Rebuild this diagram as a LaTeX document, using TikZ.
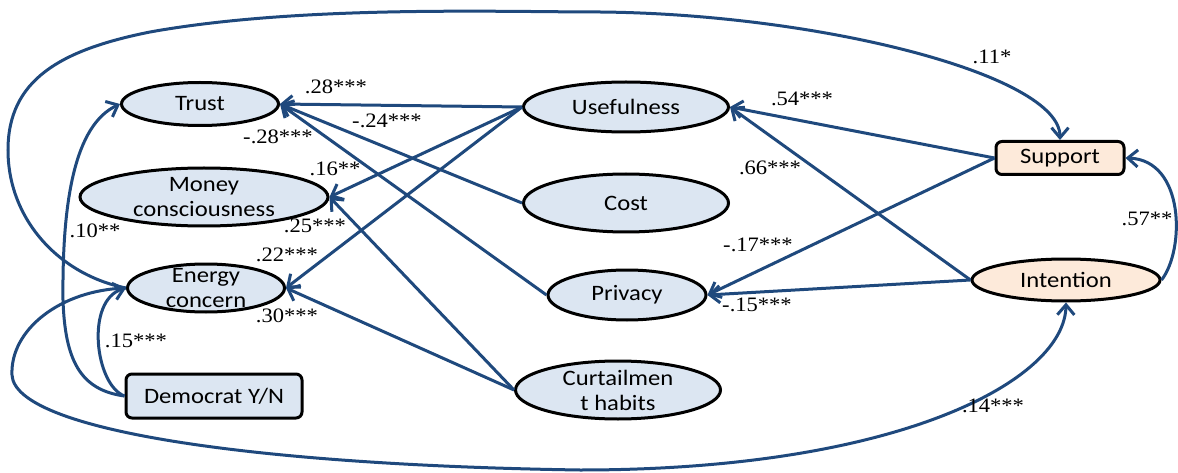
\documentclass[tikz,border=0pt]{standalone}
\usepackage{fontspec}
\setmainfont{Carlito}[FakeStretch=1.12]
\newfontfamily\lblfont{Liberation Serif}[FakeStretch=1.1]
\usetikzlibrary{shapes.geometric,arrows.meta}
\definecolor{linkblue}{RGB}{31,73,125}
\definecolor{nfill}{RGB}{220,230,242}
\definecolor{ofill}{RGB}{253,234,218}
\begin{document}
\begin{tikzpicture}[x=1pt,y=-1pt,
  ell/.style={ellipse,draw=black,line width=3pt,fill=nfill,inner sep=0pt,font=\fontsize{22}{25}\selectfont},
  txt/.style={inner sep=0pt,align=center,font=\fontsize{22}{25}\selectfont},
  box/.style={rectangle,rounded corners=6pt,draw=black,line width=3pt,fill=nfill,inner sep=0pt,font=\fontsize{22}{25}\selectfont},
  lbl/.style={inner sep=0pt,font=\lblfont\fontsize{20.5}{23}\selectfont},
  link/.style={draw=linkblue,line width=3pt,-{Straight Barb[length=10pt,width=17pt]}},
]
\path[use as bounding box] (0,0) rectangle (1178,473);

% nodes
\node[ell,minimum width=157pt,minimum height=43pt] (trust) at (200,104) {Trust};
\node[ell,minimum width=248pt,minimum height=58pt,label={[txt]center:{Money\\consciousness}}] (money) at (204,197) {};
\node[ell,minimum width=157pt,minimum height=48pt,label={[txt]center:{Energy\\concern}}] (energy) at (206,288) {};
\node[box,minimum width=176pt,minimum height=44pt] (dem) at (214,396) {Democrat Y/N};
\node[ell,minimum width=205pt,minimum height=50pt] (use) at (626,107) {Usefulness};
\node[ell,minimum width=205pt,minimum height=58pt] (cost) at (626,203) {Cost};
\node[ell,minimum width=158pt,minimum height=50pt] (priv) at (627,295) {Privacy};
\node[ell,minimum width=205pt,minimum height=58pt,label={[txt]center:{Curtailmen\\t habits}}] (curt) at (618,390) {};
\node[box,fill=ofill,minimum width=128pt,minimum height=33pt] (sup) at (1060,158) {Support};
\node[ell,fill=ofill,minimum width=188pt,minimum height=42pt] (int) at (1066,280) {Intention};

% straight paths
\draw[link] (use.west) -- (trust.east);
\draw[link] (cost.west) -- (trust.east);
\draw[link] (priv.west) -- (trust.east);
\draw[link] (use.west) -- (money.east);
\draw[link] (curt.west) -- (money.east);
\draw[link] (use.west) -- (energy.east);
\draw[link] (curt.west) -- (energy.east);
\draw[link] (sup.west) -- (use.east);
\draw[link] (int.west) -- (use.east);
\draw[link] (sup.west) -- (priv.east);
\draw[link] (int.west) -- (priv.east);

% curved paths
\draw[link] (energy.west) .. controls (60,275) and (8,220) .. (8,150)
  .. controls (8,80) and (60,50) .. (150,32)
  .. controls (300,5) and (500,12) .. (600,12)
  .. controls (820,14) and (1060,75) .. (sup.north);
\draw[link] (energy.west) .. controls (60,290) and (10,330) .. (12,375)
  .. controls (15,430) and (250,465) .. (580,470)
  .. controls (900,470) and (1065,380) .. (int.south);
\draw[link] (int.east) .. controls (1185,250) and (1185,160) .. (sup.east);
\draw[link] (dem.west) .. controls (80,390) and (65,360) .. (63,300)
  .. controls (62,200) and (75,125) .. (trust.west);
\draw[link] (dem.west) .. controls (95,385) and (85,300) .. (energy.west);

% coefficients
\node[lbl] (l1) at (336,87) {.28***};
\node[lbl] (l2) at (387,121) {-.24***};
\node[lbl] (l3) at (278,137) {-.28***};
\node[lbl] (l4) at (335,169) {.16**};
\node[lbl] (l5) at (315,226) {.25***};
\node[lbl] (l6) at (287,255) {.22***};
\node[lbl] (l7) at (287,316) {.30***};
\node[lbl] (l8) at (136,341) {.15***};
\node[lbl] (l9) at (95,231) {.10**};
\node[lbl] (l10) at (992,57) {.11*};
\node[lbl] (l11) at (993,406) {.14***};
\node[lbl] (l12) at (802,99) {.54***};
\node[lbl] (l13) at (770,168) {.66***};
\node[lbl] (l14) at (758,245) {-.17***};
\node[lbl] (l15) at (757,305) {-.15***};
\node[lbl] (l16) at (1147,219) {.57**};
\end{tikzpicture}
\end{document}
